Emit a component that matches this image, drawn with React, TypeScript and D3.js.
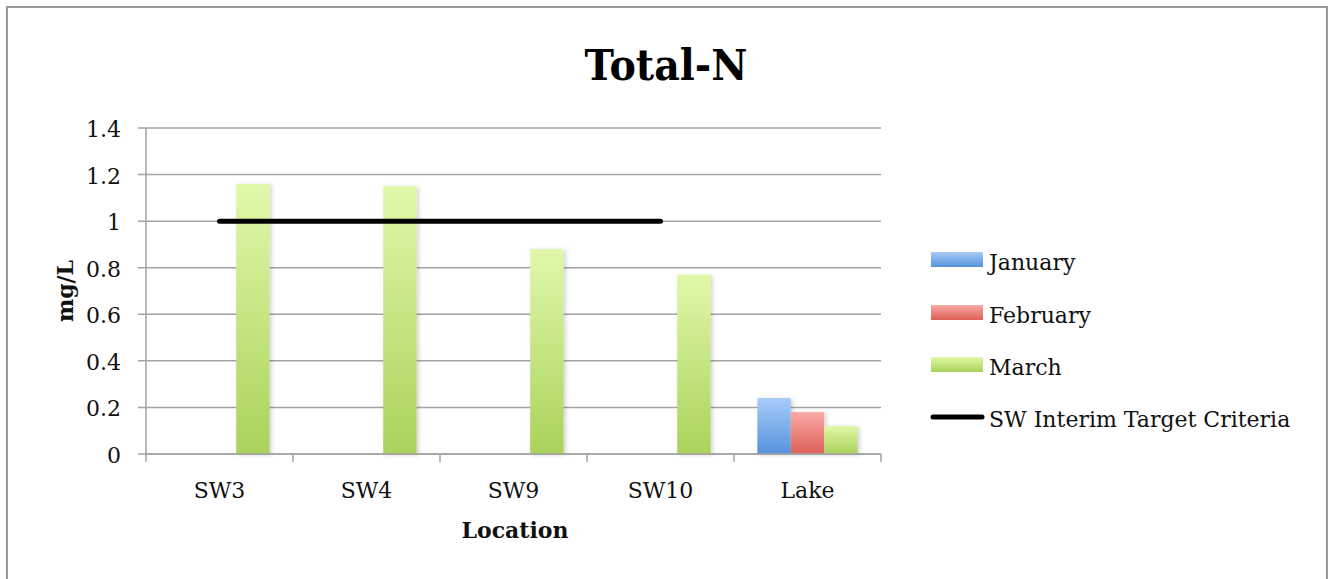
import React from 'react';
import * as d3 from 'd3';

const categories = ['SW3', 'SW4', 'SW9', 'SW10', 'Lake'];
const seriesNames = ['January', 'February', 'March'];
const january: (number | null)[] = [null, null, null, null, 0.24];
const february: (number | null)[] = [null, null, null, null, 0.18];
const march: (number | null)[] = [1.16, 1.15, 0.88, 0.77, 0.12];
const target: (number | null)[] = [1, 1, 1, 1, null];
const yTicks = [0, 0.2, 0.4, 0.6, 0.8, 1, 1.2, 1.4];
const targetName = 'SW Interim Target Criteria';

const W = 1328;
const H = 579;
const plot = { left: 146, right: 881, top: 128, bottom: 454 };
const FONT = '"DejaVu Serif", serif';

const gradients = [
  { id: 'gJan', top: '#a8cbf9', bottom: '#5593dc' },
  { id: 'gFeb', top: '#f9aaa6', bottom: '#dd5f57' },
  { id: 'gMar', top: '#e0f8a9', bottom: '#aad25b' },
];

export default function App() {
  const x0 = d3.scaleBand<string>().domain(categories).range([plot.left, plot.right]).paddingInner(0).paddingOuter(0);
  const bw = x0.bandwidth();
  const x1 = d3.scaleBand<string>().domain(seriesNames).range([0, bw]).paddingInner(0).paddingOuter(0.7);
  const y = d3.scaleLinear().domain([0, 1.4]).range([plot.bottom, plot.top]);

  const seriesData = [january, february, march];

  const lineGen = d3
    .line<number | null>()
    .defined((d) => d != null)
    .x((_, i) => (x0(categories[i]) as number) + bw / 2)
    .y((d) => y(d as number));

  const boundaries = categories.map((c) => x0(c) as number).concat([plot.right]);

  const legendX = 931;
  const legendItems = [
    { name: 'January', y: 259.5, grad: 'gJan' },
    { name: 'February', y: 312.5, grad: 'gFeb' },
    { name: 'March', y: 364.5, grad: 'gMar' },
  ];

  return (
    <svg width={W} height={H} style={{ position: 'absolute', left: 0, top: 0, background: '#fff' }}>
      <defs>
        {gradients.map((g) => (
          <linearGradient key={g.id} id={g.id} x1="0" y1="0" x2="0" y2="1">
            <stop offset="0%" stopColor={g.top} />
            <stop offset="100%" stopColor={g.bottom} />
          </linearGradient>
        ))}
        <filter id="shadow" x="-20%" y="-20%" width="150%" height="140%">
          <feDropShadow dx="2" dy="1" stdDeviation="2" floodColor="#000" floodOpacity="0.18" />
        </filter>
      </defs>
      <rect x={0} y={0} width={W} height={H} fill="#fff" />
      <rect x={7} y={7} width={1320} height={620} fill="none" stroke="#9a9a9a" strokeWidth={2} />

      <text x={666} y={80} textAnchor="middle" fontFamily={FONT} fontWeight="bold" fontSize={43} textLength={163} lengthAdjust="spacingAndGlyphs">
        Total-N
      </text>

      {/* gridlines & y ticks */}
      {yTicks.map((t) => (
        <g key={t}>
          <line x1={plot.left - 8} x2={plot.right} y1={y(t)} y2={y(t)} stroke="#a3a3a3" strokeWidth={1.5} />
          <text x={121} y={y(t) + 9} textAnchor="end" fontFamily={FONT} fontSize={22} fill="#111">
            {d3.format('~g')(t)}
          </text>
        </g>
      ))}
      <line x1={plot.left} x2={plot.left} y1={plot.top} y2={plot.bottom} stroke="#a3a3a3" strokeWidth={1.5} />

      {/* x axis ticks */}
      {boundaries.map((b, i) => (
        <line key={i} x1={b} x2={b} y1={plot.bottom} y2={plot.bottom + 8} stroke="#a3a3a3" strokeWidth={1.5} />
      ))}
      {categories.map((c) => (
        <text key={c} x={(x0(c) as number) + bw / 2} y={498} textAnchor="middle" fontFamily={FONT} fontSize={22} fill="#111">
          {c}
        </text>
      ))}

      {/* bars */}
      <g filter="url(#shadow)">
        {seriesData.map((s, si) =>
          s.map((v, ci) =>
            v == null ? null : (
              <rect
                key={`${si}-${ci}`}
                x={(x0(categories[ci]) as number) + (x1(seriesNames[si]) as number)}
                y={y(v)}
                width={x1.bandwidth()}
                height={y(0) - y(v)}
                fill={`url(#${gradients[si].id})`}
              />
            )
          )
        )}
      </g>
      <line x1={plot.left} x2={plot.right} y1={plot.bottom} y2={plot.bottom} stroke="#a3a3a3" strokeWidth={1.5} />

      {/* target line */}
      <path d={lineGen(target) || ''} fill="none" stroke="#000" strokeWidth={5} strokeLinecap="round" />

      {/* axis titles */}
      <text x={515} y={538} textAnchor="middle" fontFamily={FONT} fontWeight="bold" fontSize={22} fill="#111">
        Location
      </text>
      <text transform="translate(65,291) rotate(-90)" textAnchor="middle" dy="0.36em" fontFamily={FONT} fontWeight="bold" fontSize={22} fill="#111">
        mg/L
      </text>

      {/* legend */}
      {legendItems.map((it) => (
        <g key={it.name}>
          <rect x={legendX} y={it.y - 7.5} width={52} height={15} fill={`url(#${it.grad})`} />
          <text x={989} y={it.y + 10} fontFamily={FONT} fontSize={22} fill="#111">
            {it.name}
          </text>
        </g>
      ))}
      <line x1={legendX + 2} x2={legendX + 51} y1={417} y2={417} stroke="#000" strokeWidth={5} strokeLinecap="round" />
      <text x={989} y={427} fontFamily={FONT} fontSize={22} fill="#111">
        {targetName}
      </text>
    </svg>
  );
}
